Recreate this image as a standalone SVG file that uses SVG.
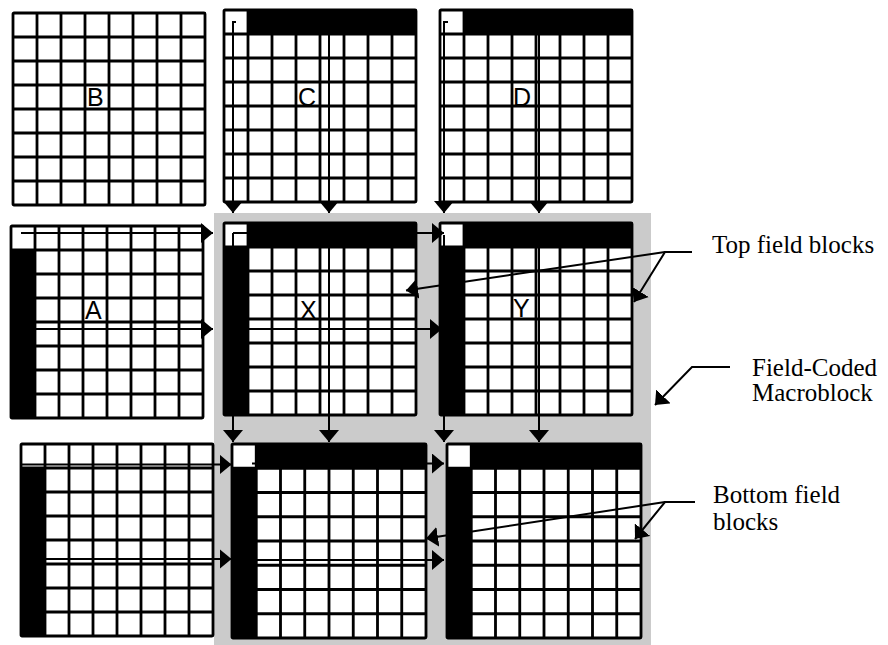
<svg xmlns="http://www.w3.org/2000/svg" xmlns:xlink="http://www.w3.org/1999/xlink" width="888" height="645" viewBox="0 0 888 645">
<style>
.bg{fill:#fff}
.blk{fill:#000}
.grid{fill:none;stroke:#000;stroke-width:2.8}
.lbl{font-family:"Liberation Sans",Arial,sans-serif;font-size:25px;fill:#000}
.cap{font-family:"Liberation Serif","Times New Roman",serif;font-size:25px;fill:#000}
.ln{fill:none;stroke:#000;stroke-width:2;marker-end:url(#ah)}
.tk{fill:none;stroke:#000;stroke-width:2}
</style>
<defs>
<marker id="ah" viewBox="0 0 12 20" refX="12" refY="10" markerWidth="12" markerHeight="20" markerUnits="userSpaceOnUse" orient="auto"><path d="M0,0L12,10L0,20Z" fill="#000"/></marker>
<rect id="cellbg" class="bg" x="0" y="0" width="192" height="192"/>
<rect id="toprow" class="blk" x="24" y="0" width="168" height="24"/>
<rect id="leftcol" class="blk" x="0" y="24" width="24" height="168"/>
<g id="lines">
<path class="grid" d="M24,0V192M48,0V192M72,0V192M96,0V192M120,0V192M144,0V192M168,0V192M0,24H192M0,48H192M0,72H192M0,96H192M0,120H192M0,144H192M0,168H192"/>
<rect class="grid" x="0" y="0" width="192" height="192" rx="1"/>
</g>
</defs>
<rect id="macroblock" x="214" y="213" width="437" height="432" fill="#cbcbcb"/>
<g id="B" transform="translate(13,13)"><use xlink:href="#cellbg"/><use xlink:href="#lines"/><text class="lbl" x="74" y="93">B</text></g>
<g id="C" transform="translate(224,10)"><use xlink:href="#cellbg"/><use xlink:href="#toprow"/><use xlink:href="#lines"/><text class="lbl" x="74" y="96">C</text></g>
<g id="D" transform="translate(440,10)"><use xlink:href="#cellbg"/><use xlink:href="#toprow"/><use xlink:href="#lines"/><text class="lbl" x="73" y="96">D</text></g>
<g id="A" transform="translate(11,226)"><use xlink:href="#cellbg"/><use xlink:href="#leftcol"/><use xlink:href="#lines"/><text class="lbl" x="74" y="93">A</text></g>
<g id="X" transform="translate(224,223)"><use xlink:href="#cellbg"/><use xlink:href="#toprow"/><use xlink:href="#leftcol"/><use xlink:href="#lines"/><text class="lbl" x="76" y="96">X</text></g>
<g id="Y" transform="translate(440,223)"><use xlink:href="#cellbg"/><use xlink:href="#toprow"/><use xlink:href="#leftcol"/><use xlink:href="#lines"/><text class="lbl" x="73" y="94">Y</text></g>
<g id="E" transform="translate(21,444)"><use xlink:href="#cellbg"/><use xlink:href="#leftcol"/><use xlink:href="#lines"/></g>
<g id="F" transform="translate(232,444) scale(1.0104)"><use xlink:href="#cellbg"/><use xlink:href="#toprow"/><use xlink:href="#leftcol"/><use xlink:href="#lines"/></g>
<g id="G" transform="translate(447,444) scale(1.0104)"><use xlink:href="#cellbg"/><use xlink:href="#toprow"/><use xlink:href="#leftcol"/><use xlink:href="#lines"/></g>
<g id="connectors">
<path class="tk" d="M236,22H232"/>
<path class="ln" d="M233,22V213"/>
<path class="ln" d="M329,22V213"/>
<path class="tk" d="M448,22H443"/>
<path class="ln" d="M444,22V213"/>
<path class="ln" d="M539,22V213"/>
<path class="ln" d="M21,233H213"/>
<path class="ln" d="M23,329H213"/>
<path class="ln" d="M233,233H444"/>
<path class="ln" d="M233,233V442"/>
<path class="ln" d="M233,329H442"/>
<path class="ln" d="M329,235V442"/>
<path class="ln" d="M444,235V442"/>
<path class="ln" d="M539,235V442"/>
<path class="ln" d="M22,464.5H231.5"/>
<path class="ln" d="M24,559H231.5"/>
<path class="ln" d="M252,463.5H444"/>
<path class="ln" d="M236,560H444"/>
<path class="ln" d="M692,252H665L634,302"/>
<path class="ln" d="M665,252L406,290.5"/>
<path class="ln" d="M730,367H692L655,405"/>
<path class="ln" d="M695,502H665L635,539"/>
<path class="ln" d="M665,502L426,538.6"/>
</g>
<g id="captions">
<text class="cap" x="712" y="253">Top field blocks</text>
<text class="cap" x="752" y="376">Field-Coded</text>
<text class="cap" x="752" y="401">Macroblock</text>
<text class="cap" x="713" y="503">Bottom field</text>
<text class="cap" x="713" y="530">blocks</text>
</g>
</svg>
